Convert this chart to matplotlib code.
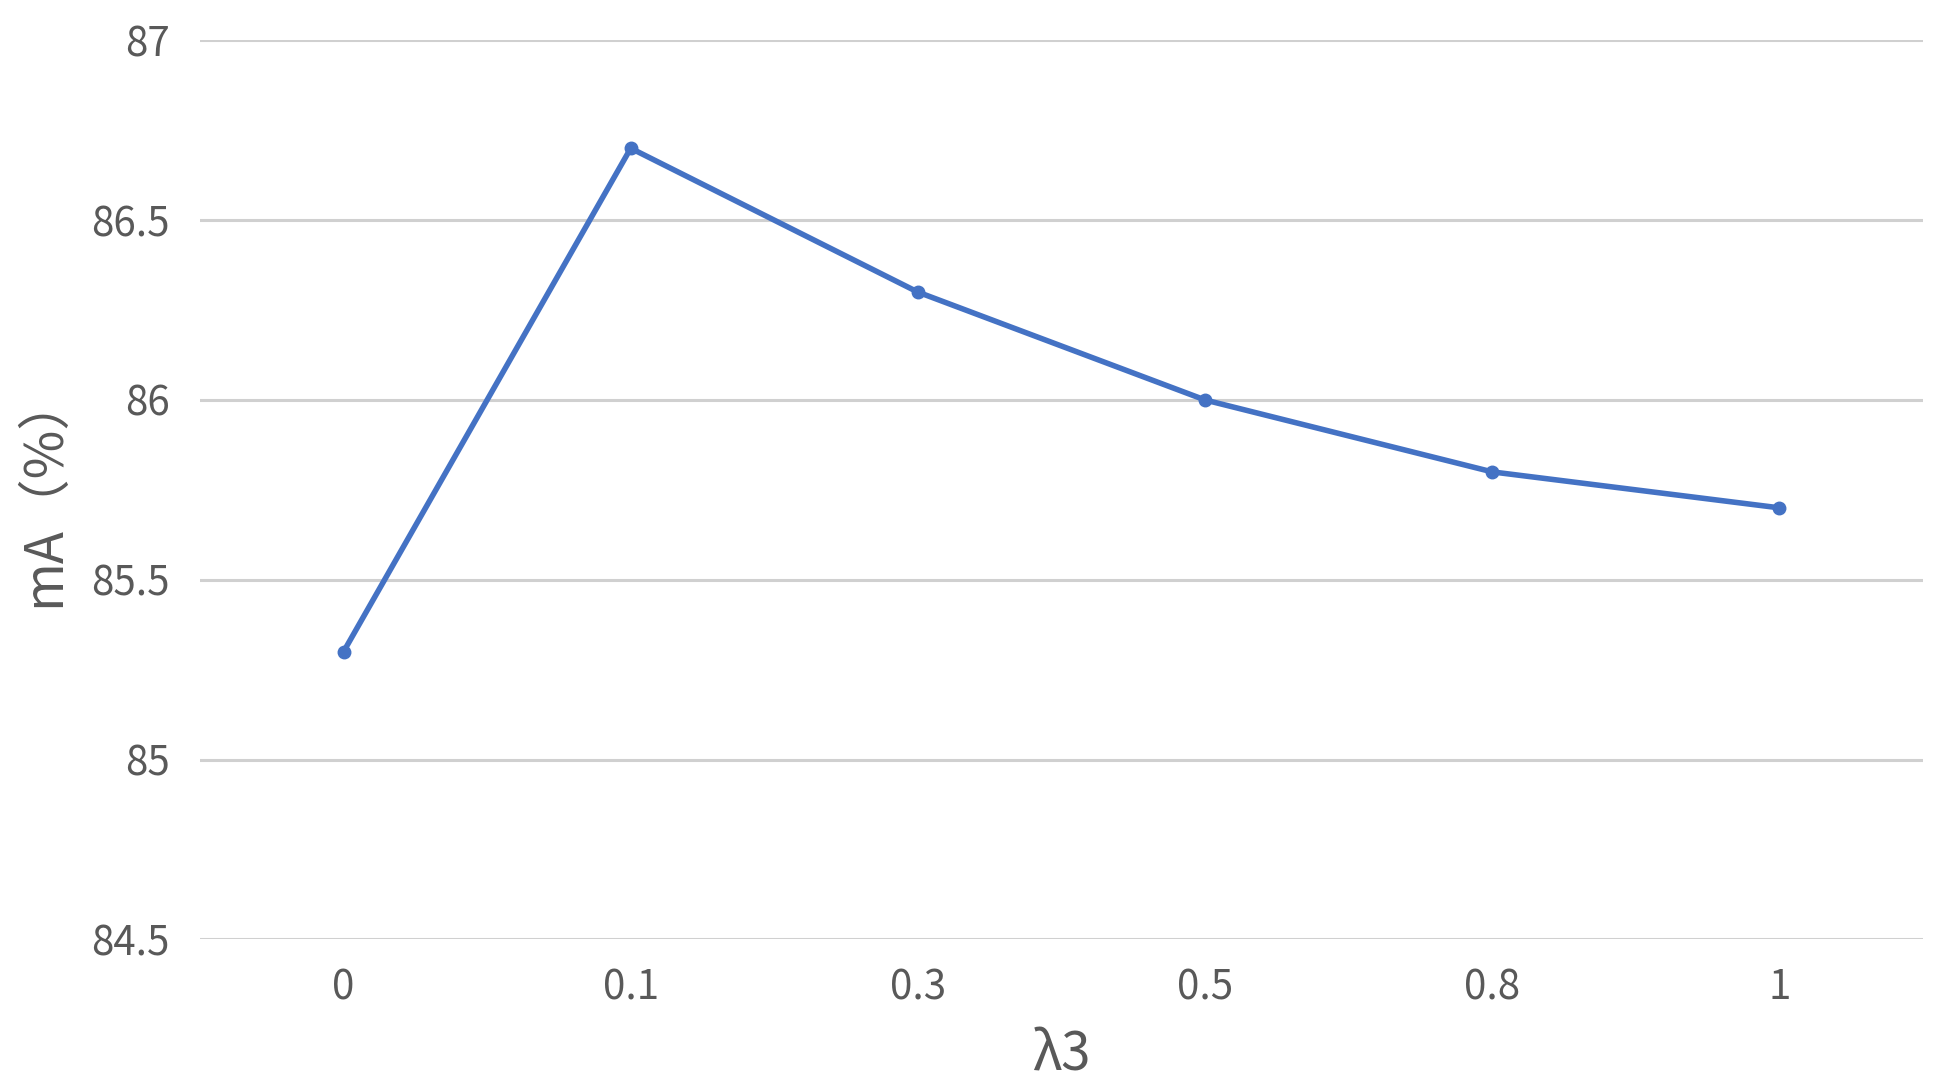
import matplotlib.pyplot as plt
import numpy as np

plt.rcParams['font.family'] = ['Noto Sans CJK SC', 'DejaVu Sans']

categories = ['0', '0.1', '0.3', '0.5', '0.8', '1']
mA = [85.3, 86.7, 86.3, 86.0, 85.8, 85.7]
yticks = [84.5, 85, 85.5, 86, 86.5, 87]
ytick_labels = ['84.5', '85', '85.5', '86', '86.5', '87']


def drawChart():
    f = plt.figure(figsize=(19.53, 10.91), dpi=100)
    ax = f.add_axes([0.1024, 0.139, 0.8822, 0.824])

    x = np.arange(len(categories))
    ax.plot(x, mA, color='#4472C4', lw=4, marker='o', ms=9, zorder=3)

    ax.set_xlim(-0.5, len(categories) - 0.5)
    ax.set_ylim(84.5, 87)
    ax.set_yticks(yticks)
    ax.set_yticklabels(ytick_labels)
    ax.set_xticks(x)
    ax.set_xticklabels(categories)
    ax.yaxis.grid(True, color='#D0D0D0', lw=2.2)
    ax.set_axisbelow(True)
    for s in ax.spines.values():
        s.set_visible(False)
    ax.tick_params(length=0, labelsize=29, colors='#595959')
    ax.tick_params(axis='y', pad=22)
    ax.tick_params(axis='x', pad=20)
    for lbl in ax.get_xticklabels() + ax.get_yticklabels():
        lbl.set_fontweight('medium')

    ax.set_xlabel('λ3', fontsize=38, color='#595959', labelpad=14)
    ax.set_ylabel('mA（%）', fontsize=38, color='#595959', labelpad=14)

    f.savefig('out.png', dpi=100)
    return f


if '__main__' == __name__:
    drawChart()
